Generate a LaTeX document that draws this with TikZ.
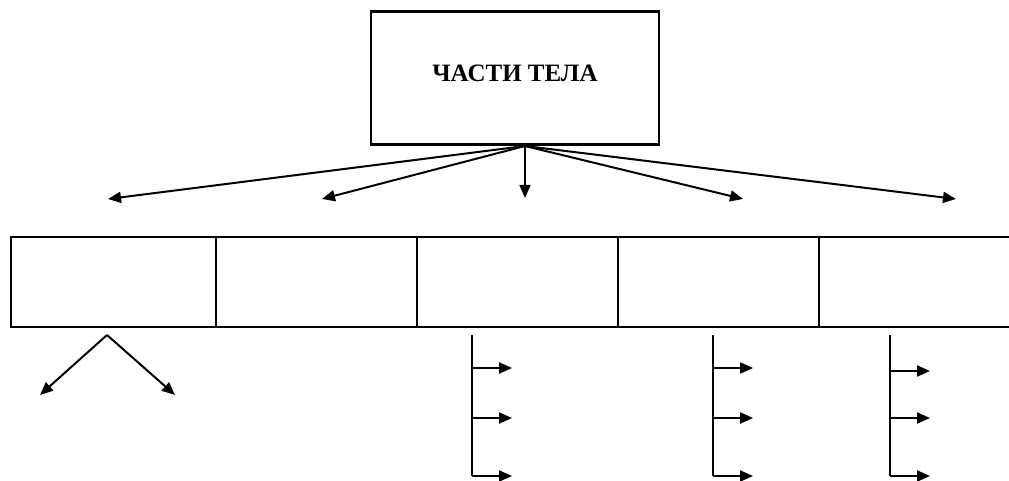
\documentclass[tikz,border=0pt]{standalone}
\usepackage{fontspec}
\setmainfont{Liberation Serif}
\usetikzlibrary{positioning,arrows.meta}

\tikzset{
    partbox/.style={draw, line width=2.3pt, minimum width=201pt, minimum height=90pt, inner sep=0pt, outer sep=0pt},
    toarrow/.style={-{Triangle[length=13pt,width=11pt]}, line width=2pt},
    combline/.style={line width=1.5pt},
}

\begin{document}
\begin{tikzpicture}[x=1pt,y=-1pt]
    \useasboundingbox (0,0) rectangle (1009,481);
    \clip (0,0) rectangle (1009,481);

    \node[draw, line width=2.5pt, minimum width=288pt, minimum height=133pt, text depth=9pt,
          font=\bfseries\fontsize{25}{30}\selectfont] (body) at (515,78) {ЧАСТИ ТЕЛА};

    % row of parts
    \node[partbox, minimum width=205pt] (p1) at (113.5,282) {};
    \node[partbox, right=0pt of p1] (p2) {};
    \node[partbox, right=0pt of p2] (p3) {};
    \node[partbox, right=0pt of p3] (p4) {};
    \node[partbox, right=0pt of p4] (p5) {};

    % arrows from the title box
    \coordinate (hub) at (525,146);
    \coordinate (t1) at (108,199);
    \coordinate (t2) at (322,199);
    \coordinate (t3) at (525,198);
    \coordinate (t4) at (743,199);
    \coordinate (t5) at (956,199);
    \foreach \t in {t1,t2,t4,t5}
        \draw[toarrow] (hub) -- (\t);
    \draw[toarrow, line width=1.5pt] (hub) -- (t3);

    % branches under the first part
    \coordinate (v) at (107,335);
    \coordinate (vl) at (40,395);
    \coordinate (vr) at (175,395);
    \draw[toarrow] (v) -- (vl);
    \draw[toarrow] (v) -- (vr);

    % combs under the other parts
    \foreach \x/\ya in {472/368, 713/368, 890/371} {
        \coordinate (c\x) at (\x,335);
        \coordinate (d\x) at (\x,476);
        \draw[combline] (c\x) -- (d\x);
        \foreach \y in {\ya,418,476}
            \draw[toarrow] (\x,\y) -- ++(40,0);
    }
\end{tikzpicture}
\end{document}
